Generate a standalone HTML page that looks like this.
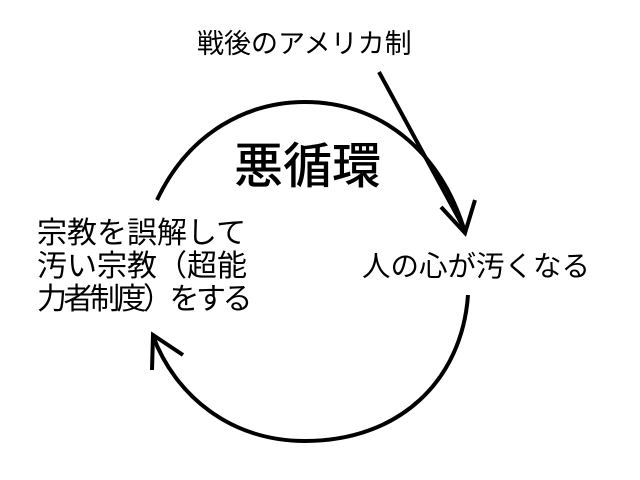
<!DOCTYPE html>
<html><head><meta charset="utf-8"><style>
html,body{margin:0;padding:0;background:#fff;}
body{width:640px;height:480px;position:relative;overflow:hidden;font-family:"Liberation Sans","Noto Sans CJK JP",sans-serif;color:#000;}
.t{position:absolute;white-space:nowrap;line-height:1;}
</style></head><body>
<svg width="640" height="480" style="position:absolute;left:0;top:0" fill="none" stroke="#000" stroke-width="4" stroke-linecap="butt">
<path d="M157,200 C190,130 250,102 305,102 C380,102 440,150 465,232"/>
<path d="M441,207 L465,233 L475,200"/>
<path d="M379,72 L465,230"/>
<path d="M468,295 C462,380 400,441 305,441 C230,441 175,395 153,336"/>
<path d="M152,370 L153,335 L183,355"/>
</svg>
<div class="t" style="left:197px;top:31px;font-size:27px;">戦後のアメリカ制</div>
<div class="t" style="left:234px;top:143px;font-size:49px;font-weight:500;">悪循環</div>
<div class="t" style="left:37px;top:217px;font-size:30px;line-height:33px;">宗教を誤解して<br>汚い宗教（超能<br><span style="letter-spacing:-3.5px">力者制度）をする</span></div>
<div class="t" style="left:362px;top:253px;font-size:28.5px;">人の心が汚くなる</div>
</body></html>
